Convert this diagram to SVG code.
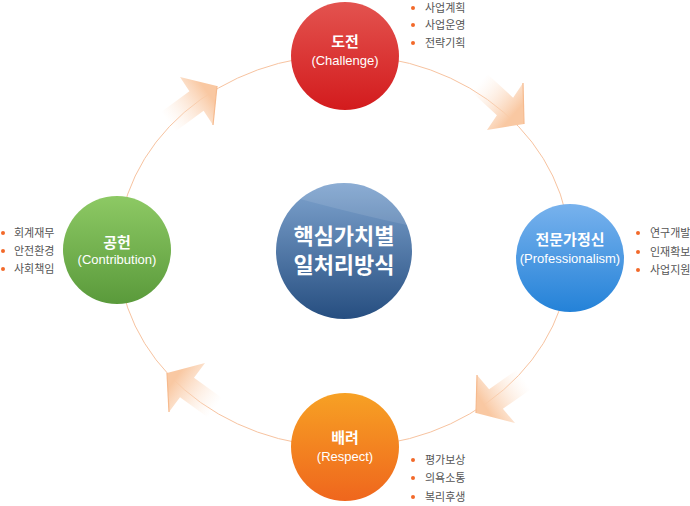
<svg xmlns="http://www.w3.org/2000/svg" width="690" height="506" viewBox="0 0 690 506">
<style>
.t1{font-family:"Noto Sans CJK KR","Liberation Sans",sans-serif;font-size:15px;font-weight:bold;fill:#fff;text-anchor:middle}
.t2{font-family:"Liberation Sans","Noto Sans CJK KR",sans-serif;font-size:13px;fill:#fff;text-anchor:middle}
.tc{font-family:"Noto Sans CJK KR",sans-serif;font-size:22px;font-weight:bold;fill:#fff;text-anchor:middle}
.b{font-family:"Noto Sans CJK KR",sans-serif;font-size:11px;fill:#555}
.dot{fill:#f2692a}
.ring{fill:none;stroke:#f7c3a0;stroke-width:1}
.edge{stroke:#f6ba8e;stroke-width:1.2;fill:none}
</style>
<defs>
<linearGradient id="gR" x1="0" y1="0" x2="0" y2="1"><stop offset="0" stop-color="#e3534f"/><stop offset="1" stop-color="#d31b1d"/></linearGradient>
<linearGradient id="gB" x1="0" y1="0" x2="0" y2="1"><stop offset="0" stop-color="#78b2ed"/><stop offset="1" stop-color="#2482d8"/></linearGradient>
<linearGradient id="gO" x1="0" y1="0" x2="0" y2="1"><stop offset="0" stop-color="#f7a124"/><stop offset="1" stop-color="#ef661d"/></linearGradient>
<linearGradient id="gG" x1="0" y1="0" x2="0" y2="1"><stop offset="0" stop-color="#8dc964"/><stop offset="1" stop-color="#5a9a3b"/></linearGradient>
<linearGradient id="gC" x1="0" y1="0" x2="0" y2="1"><stop offset="0" stop-color="#7fa4cf"/><stop offset="1" stop-color="#264e80"/></linearGradient>
<linearGradient id="a1" gradientUnits="userSpaceOnUse" x1="208" y1="93" x2="168" y2="122"><stop offset="0" stop-color="#f9c8a2"/><stop offset="1" stop-color="#fde8d8" stop-opacity="0"/></linearGradient>
<linearGradient id="a2" gradientUnits="userSpaceOnUse" x1="514" y1="114" x2="479" y2="83"><stop offset="0" stop-color="#f9c8a2"/><stop offset="1" stop-color="#fde8d8" stop-opacity="0"/></linearGradient>
<linearGradient id="a3" gradientUnits="userSpaceOnUse" x1="484" y1="405" x2="524" y2="379"><stop offset="0" stop-color="#f9c8a2"/><stop offset="1" stop-color="#fde8d8" stop-opacity="0"/></linearGradient>
<linearGradient id="a4" gradientUnits="userSpaceOnUse" x1="175" y1="379" x2="215" y2="408"><stop offset="0" stop-color="#f9c8a2"/><stop offset="1" stop-color="#fde8d8" stop-opacity="0"/></linearGradient>
</defs>

<g id="connectors">
<ellipse class="ring" cx="344" cy="251" rx="226" ry="196"/>
<g id="arrow-tl">
<polygon fill="url(#a1)" points="217,86 213,125 203.6,110.7 175.4,131.4 161.2,112 189.4,91.3 180,77"/>
<line class="edge" x1="217" y1="86" x2="213" y2="125"/>
</g>
<g id="arrow-tr">
<polygon fill="url(#a2)" points="524,124 523,83 513.1,97.7 487.3,74 471.1,91.6 496.9,115.3 487,130"/>
<line class="edge" x1="524" y1="124" x2="523" y2="83"/>
</g>
<g id="arrow-br">
<polygon fill="url(#a3)" points="476,413 477,375 489.1,389.2 517.8,369.1 531.6,388.7 502.9,408.8 515,423"/>
<line class="edge" x1="476" y1="413" x2="477" y2="375"/>
</g>
<g id="arrow-bl">
<polygon fill="url(#a4)" points="167,373 169,412 180,397.2 208.4,417.7 222.4,398.3 194,377.8 205,363"/>
<line class="edge" x1="167" y1="373" x2="169" y2="412"/>
</g>
</g>

<g id="center">
<circle cx="344" cy="251" r="68" fill="url(#gC)"/>
<path d="M300,199 A68,68 0 0 1 407,225 Q360,215 300,199 Z" fill="#fff" opacity="0.1"/>
<text class="tc" x="344" y="244">핵심가치별</text>
<text class="tc" x="344" y="273">일처리방식</text>
</g>

<g id="challenge">
<circle cx="345" cy="56" r="54" fill="url(#gR)"/>
<text class="t1" x="345" y="47">도전</text>
<text class="t2" x="345" y="65">(Challenge)</text>
<circle class="dot" cx="413" cy="8" r="2"/><text class="b" x="425" y="12">사업계획</text>
<circle class="dot" cx="413" cy="25" r="2"/><text class="b" x="425" y="29">사업운영</text>
<circle class="dot" cx="413" cy="43" r="2"/><text class="b" x="425" y="47">전략기획</text>
</g>

<g id="professionalism">
<circle cx="570" cy="258" r="54" fill="url(#gB)"/>
<text class="t1" x="570" y="245">전문가정신</text>
<text class="t2" x="570" y="263">(Professionalism)</text>
<circle class="dot" cx="638" cy="233" r="2"/><text class="b" x="650" y="237">연구개발</text>
<circle class="dot" cx="638" cy="252" r="2"/><text class="b" x="650" y="256">인재확보</text>
<circle class="dot" cx="638" cy="270" r="2"/><text class="b" x="650" y="274">사업지원</text>
</g>

<g id="respect">
<circle cx="345" cy="447" r="54" fill="url(#gO)"/>
<text class="t1" x="345" y="443">배려</text>
<text class="t2" x="345" y="461">(Respect)</text>
<circle class="dot" cx="413" cy="460" r="2"/><text class="b" x="425" y="464">평가보상</text>
<circle class="dot" cx="413" cy="478" r="2"/><text class="b" x="425" y="482">의욕소통</text>
<circle class="dot" cx="413" cy="497" r="2"/><text class="b" x="425" y="501">복리후생</text>
</g>

<g id="contribution">
<circle cx="117" cy="250" r="54" fill="url(#gG)"/>
<text class="t1" x="117" y="248">공헌</text>
<text class="t2" x="117" y="264">(Contribution)</text>
<circle class="dot" cx="3" cy="233" r="2"/><text class="b" x="14" y="237">회계재무</text>
<circle class="dot" cx="3" cy="251" r="2"/><text class="b" x="14" y="255">안전환경</text>
<circle class="dot" cx="3" cy="269" r="2"/><text class="b" x="14" y="273">사회책임</text>
</g>
</svg>
